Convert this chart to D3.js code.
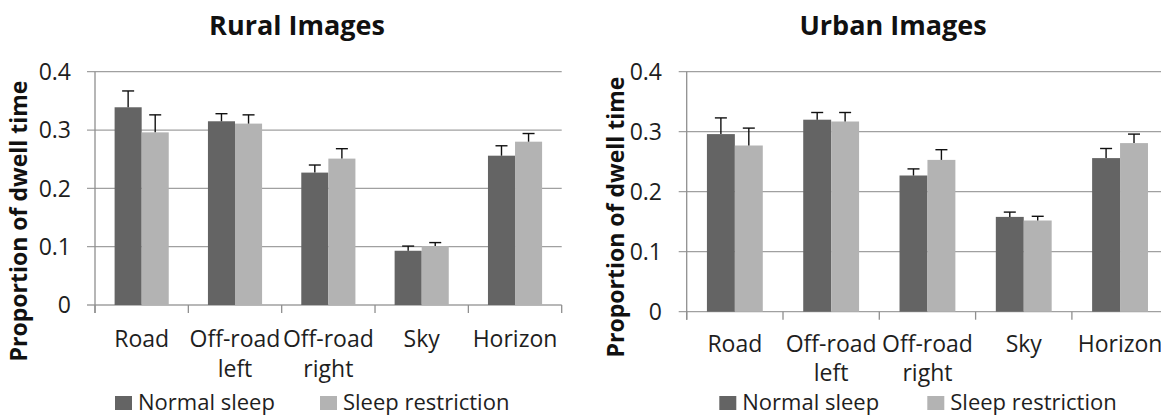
<!DOCTYPE html>
<html lang="en">
<head>
    <meta charset="UTF-8">
    <title>Dwell time by region</title>
    <script src="https://d3js.org/d3.v7.min.js"></script>
</head>
<style>
    body {
        margin: 0;
        padding: 0;
        background: #fff;
    }
    svg {
        display: block;
        font-family: "Open Sans", sans-serif;
    }
</style>
<body>
<div class="chart-container"></div>
<script>
  /** DATA */
  var categories = ['Road', 'Off-road left', 'Off-road right', 'Sky', 'Horizon'];
  var categoryLines = [['Road'], ['Off-road', 'left'], ['Off-road', 'right'], ['Sky'], ['Horizon']];
  var seriesNames = ['Normal sleep', 'Sleep restriction'];
  var yTicks = [0, 0.1, 0.2, 0.3, 0.4];

  var ruralNormal = [0.339, 0.315, 0.227, 0.093, 0.256];
  var ruralNormalErr = [0.367, 0.328, 0.240, 0.101, 0.273];
  var ruralRestrict = [0.296, 0.311, 0.251, 0.101, 0.280];
  var ruralRestrictErr = [0.326, 0.326, 0.268, 0.107, 0.294];

  var urbanNormal = [0.296, 0.320, 0.227, 0.158, 0.256];
  var urbanNormalErr = [0.323, 0.332, 0.238, 0.166, 0.272];
  var urbanRestrict = [0.277, 0.317, 0.253, 0.152, 0.281];
  var urbanRestrictErr = [0.306, 0.332, 0.270, 0.159, 0.296];

  var colors = ['#646464', '#b3b3b3'];

  var svg_selection = d3.select('.chart-container')
    .append('svg')
    .attr('width', 1161)
    .attr('height', 417);

  buildChart({
    title: 'Rural Images', titleX: 297,
    left: 95, right: 561.7, top: 71.7, bottom: 305,
    tickRight: 71, yLabelX: 19, yLabelY: 221,
    labelBase: 347, labelStep: 30,
    legendX: [115, 320], legendY: 396,
    values: [ruralNormal, ruralRestrict],
    errors: [ruralNormalErr, ruralRestrictErr]
  });

  buildChart({
    title: 'Urban Images', titleX: 893,
    left: 686.7, right: 1168.2, top: 71.7, bottom: 311.7,
    tickRight: 662, yLabelX: 616, yLabelY: 217,
    labelBase: 352, labelStep: 29,
    legendX: [719.3, 927.3], legendY: 396,
    values: [urbanNormal, urbanRestrict],
    errors: [urbanNormalErr, urbanRestrictErr]
  });

  /** FUNCTIONS **/
  function buildChart(cfg) {
    var g = svg_selection.append('g');

    var x = d3.scaleBand()
      .domain(categories)
      .range([cfg.left, cfg.right])
      .paddingInner(0.42)
      .paddingOuter(0.21);

    var xInner = d3.scaleBand()
      .domain(seriesNames)
      .range([0, x.bandwidth()]);

    var y = d3.scaleLinear()
      .domain([0, 0.4])
      .range([cfg.bottom, cfg.top]);

    /** gridlines + y ticks */
    g.selectAll('.grid')
      .data(yTicks)
      .enter().append('line')
      .attr('x1', cfg.left - 8)
      .attr('x2', cfg.right)
      .attr('y1', function (d) { return y(d); })
      .attr('y2', function (d) { return y(d); })
      .attr('stroke', '#a0a0a0')
      .attr('stroke-width', 1.3);

    g.selectAll('.ytick')
      .data(yTicks)
      .enter().append('text')
      .attr('x', cfg.tickRight)
      .attr('y', function (d) { return y(d); })
      .attr('dy', '0.36em')
      .attr('text-anchor', 'end')
      .attr('font-size', 23)
      .attr('fill', '#1e1e1e')
      .text(function (d) { return d === 0 ? '0' : d3.format('.1f')(d); });

    /** y axis line and category separators */
    g.append('line')
      .attr('x1', cfg.left).attr('x2', cfg.left)
      .attr('y1', cfg.top).attr('y2', cfg.bottom + 8)
      .attr('stroke', '#8f8f8f').attr('stroke-width', 1.3);

    var step = x.step();
    g.selectAll('.xtick')
      .data(d3.range(categories.length + 1))
      .enter().append('line')
      .attr('x1', function (i) { return cfg.left + i * step; })
      .attr('x2', function (i) { return cfg.left + i * step; })
      .attr('y1', cfg.bottom)
      .attr('y2', cfg.bottom + 8)
      .attr('stroke', '#8f8f8f').attr('stroke-width', 1.3);

    /** bars */
    var groups = g.selectAll('.cat')
      .data(categories)
      .enter().append('g')
      .attr('transform', function (d) { return 'translate(' + x(d) + ',0)'; });

    seriesNames.forEach(function (s, si) {
      groups.append('rect')
        .attr('x', xInner(s))
        .attr('width', xInner.bandwidth())
        .attr('y', function (d, i) { return y(cfg.values[si][i]); })
        .attr('height', function (d, i) { return cfg.bottom - y(cfg.values[si][i]); })
        .attr('fill', colors[si]);

      var cx = xInner(s) + xInner.bandwidth() / 2;
      groups.append('line')
        .attr('x1', cx).attr('x2', cx)
        .attr('y1', function (d, i) { return y(cfg.values[si][i]); })
        .attr('y2', function (d, i) { return y(cfg.errors[si][i]); })
        .attr('stroke', '#111').attr('stroke-width', 1.4);
      groups.append('line')
        .attr('x1', cx - 6).attr('x2', cx + 6)
        .attr('y1', function (d, i) { return y(cfg.errors[si][i]); })
        .attr('y2', function (d, i) { return y(cfg.errors[si][i]); })
        .attr('stroke', '#111').attr('stroke-width', 1.4);
    });

    /** category labels */
    groups.each(function (d, i) {
      var t = d3.select(this).append('text')
        .attr('text-anchor', 'middle')
        .attr('font-size', 23)
        .attr('fill', '#1e1e1e');
      categoryLines[i].forEach(function (line, li) {
        t.append('tspan')
          .attr('x', x.bandwidth() / 2)
          .attr('y', cfg.labelBase + li * cfg.labelStep)
          .text(line);
      });
    });

    /** title */
    g.append('text')
      .attr('x', cfg.titleX)
      .attr('y', 35)
      .attr('text-anchor', 'middle')
      .attr('font-size', 27)
      .attr('font-weight', 'bold')
      .attr('fill', '#111')
      .text(cfg.title);

    /** y label */
    g.append('text')
      .attr('transform', 'translate(' + cfg.yLabelX + ',' + cfg.yLabelY + ') rotate(-90)')
      .attr('text-anchor', 'middle')
      .attr('dy', '0.35em')
      .attr('font-size', 23)
      .attr('font-weight', 'bold')
      .attr('fill', '#111')
      .text('Proportion of dwell time');

    /** legend */
    var legend = g.selectAll('.legend')
      .data(seriesNames)
      .enter().append('g')
      .attr('transform', function (d, i) { return 'translate(' + cfg.legendX[i] + ',' + cfg.legendY + ')'; });
    legend.append('rect')
      .attr('width', 17).attr('height', 14)
      .attr('fill', function (d, i) { return colors[i]; });
    legend.append('text')
      .attr('x', 23)
      .attr('y', 14)
      .attr('font-size', 22)
      .attr('fill', '#1e1e1e')
      .text(function (d) { return d; });
  }
</script>
</body>
</html>
